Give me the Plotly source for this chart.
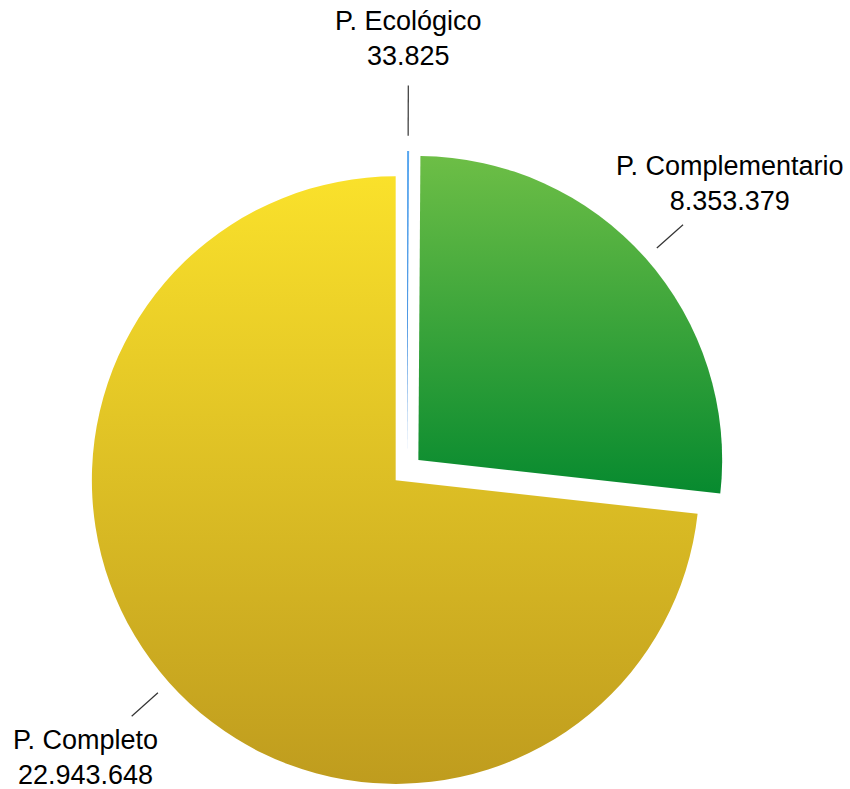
import math
import plotly.graph_objects as go

# ---- data ----
labels = ["P. Ecológico", "P. Complementario", "P. Completo"]
values = [33825, 8353379, 22943648]
colors = ["#3F93E6", "#3AA33B", "#DDBE25"]          # fallback solid fills
grad_top = ["#5AA8F0", "#6DBE46", "#FAE12B"]
grad_bottom = ["#2F80D8", "#078A2F", "#BF9C1E"]

# ---- layout geometry ----
W, H = 850, 789
pull = 0.05
cx_px, cy_px = 407, 470
half_h = H - cy_px
half_w = 330
dom_x = [(cx_px - half_w) / W, (cx_px + half_w) / W]
dom_y = [0, 2 * half_h / H]
R = min(half_w, half_h) / (1 + pull)   # plotly's own radius rule

fig = go.Figure(go.Pie(
    labels=labels,
    values=values,
    sort=False,
    direction="clockwise",
    rotation=0,
    pull=[pull] * len(values),
    marker=dict(colors=colors, line=dict(width=0)),
    textinfo="none",
    hoverinfo="label+value",
    domain=dict(x=dom_x, y=dom_y),
    showlegend=False,
))

def fmt(v):
    return f"{v:,}".replace(",", ".")

total = sum(values)
cum = 0
annotations = []
shapes = []
text_r = 1.42 * R
line_r0 = 1.10 * R
hh, hw, gap = 30, 110, 17
for lab, v in zip(labels, values):
    mid = (cum + v / 2) / total * 2 * math.pi
    cum += v
    dx, dy = math.sin(mid), -math.cos(mid)
    tx, ty = cx_px + text_r * dx, cy_px + text_r * dy
    edge = min(hw / max(abs(dx), 1e-9), hh / max(abs(dy), 1e-9))
    line_r1 = text_r - edge - gap
    annotations.append(dict(
        x=tx / W, y=1 - ty / H, xref="paper", yref="paper",
        text=f"{lab}<br>{fmt(v)}", showarrow=False,
        xanchor="center", yanchor="middle", align="center",
        font=dict(family="Liberation Sans, Arial, Helvetica, sans-serif", size=27, color="#000000"),
    ))
    x0, y0 = cx_px + line_r0 * dx, cy_px + line_r0 * dy
    x1, y1 = cx_px + line_r1 * dx, cy_px + line_r1 * dy
    shapes.append(dict(
        type="line", xref="paper", yref="paper",
        x0=x0 / W, y0=1 - y0 / H, x1=x1 / W, y1=1 - y1 / H,
        line=dict(color="#333333", width=1.2),
    ))

fig.update_layout(
    width=W, height=H,
    margin=dict(l=0, r=0, t=0, b=0),
    paper_bgcolor="white",
    plot_bgcolor="white",
    annotations=annotations,
    shapes=shapes,
)

tops_js = "[" + ",".join(f"'{c}'" for c in grad_top) + "]"
bots_js = "[" + ",".join(f"'{c}'" for c in grad_bottom) + "]"
post = """
document.body.style.margin = '0';
document.body.style.padding = '0';
document.body.style.overflow = 'hidden';
var gd = document.getElementById('{plot_id}');
var TOPS = %s, BOTS = %s;
function applyGrad(){
  var svg = gd.querySelector('svg.main-svg');
  if(!svg) return;
  var defs = svg.querySelector('defs');
  var ns = 'http://www.w3.org/2000/svg';
  for (var i = 0; i < TOPS.length; i++) {
    var id = 'sliceGrad' + i;
    if (!document.getElementById(id)) {
      var lg = document.createElementNS(ns, 'linearGradient');
      lg.setAttribute('id', id);
      lg.setAttribute('x1', '0'); lg.setAttribute('y1', '0');
      lg.setAttribute('x2', '0'); lg.setAttribute('y2', '1');
      var s1 = document.createElementNS(ns, 'stop');
      s1.setAttribute('offset', '0'); s1.setAttribute('stop-color', TOPS[i]);
      var s2 = document.createElementNS(ns, 'stop');
      s2.setAttribute('offset', '1'); s2.setAttribute('stop-color', BOTS[i]);
      lg.appendChild(s1); lg.appendChild(s2);
      defs.appendChild(lg);
    }
  }
  var slices = gd.querySelectorAll('g.slice');
  slices.forEach(function(s, k){
    var idx = (s.__data__ && s.__data__.i !== undefined) ? s.__data__.i : k;
    var p = s.querySelector('path.surface');
    if (p) p.style.fill = 'url(#sliceGrad' + idx + ')';
  });
}
applyGrad();
gd.on('plotly_afterplot', applyGrad);
""" % (tops_js, bots_js)

fig.write_html("out.html", post_script=post, config={"displayModeBar": False})
